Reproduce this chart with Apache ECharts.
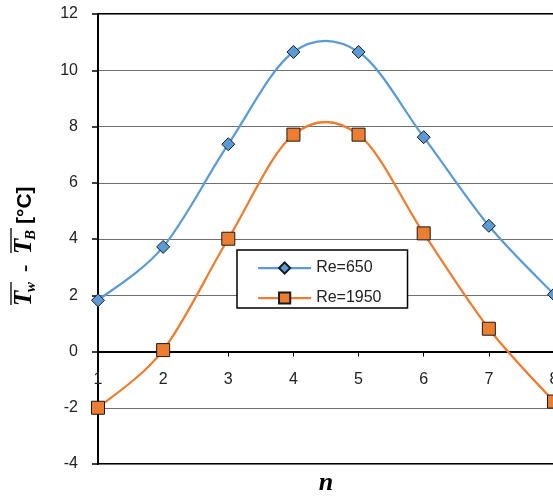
<!DOCTYPE html>
<html>
<head>
<meta charset="utf-8">
<script src="https://cdn.jsdelivr.net/npm/echarts@6/dist/echarts.min.js"></script>
<style>
  html, body { margin: 0; padding: 0; background: #fff; }
  #chart { width: 553px; height: 497px; }
</style>
</head>
<body>
<div id="chart"></div>
<script>
// Axial position index n and wall-minus-bulk temperature difference per Reynolds number
const positions = ['1', '2', '3', '4', '5', '6', '7', '8'];
const re650 = [1.82, 3.72, 7.37, 10.65, 10.65, 7.62, 4.47, 2.03];
const re1950 = [-2.0, 0.05, 4.01, 7.71, 7.71, 4.2, 0.81, -1.78];
const yTicks = { min: -4, max: 12, step: 2 };

const BLUE = '#5b9bd5';
const ORANGE = '#ed7d31';

// Plot box geometry
const GRID_TOP = 14;
const GRID_BOTTOM = 33;
const CHART_H = 497;
const plotH = CHART_H - GRID_TOP - GRID_BOTTOM;
// distance from the bottom edge of the plot up to the y = 0 line
const zeroLift = plotH * (0 - yTicks.min) / (yTicks.max - yTicks.min);

const chart = echarts.init(document.getElementById('chart'));

const serif = '"Liberation Serif", "DejaVu Serif", serif';
const sans = '"Liberation Sans", "DejaVu Sans", sans-serif';

// Rotated y-axis title: overlined T_w - overlined T_B [°C]
function titleParts() {
  const big = 'italic bold 25px ' + serif;
  const small = 'italic bold 15px ' + serif;
  return [
    { type: 'text', style: { x: 0, y: 0, text: 'T', font: big, fill: '#000', verticalAlign: 'bottom' } },
    { type: 'text', style: { x: 14, y: 2, text: 'w', font: small, fill: '#000', verticalAlign: 'bottom' } },
    { type: 'text', style: { x: 34, y: -1, text: '-', font: 'bold 22px ' + serif, fill: '#000', verticalAlign: 'bottom' } },
    { type: 'text', style: { x: 52, y: 0, text: 'T', font: big, fill: '#000', verticalAlign: 'bottom' } },
    { type: 'text', style: { x: 66, y: 2, text: 'B', font: small, fill: '#000', verticalAlign: 'bottom' } },
    { type: 'text', style: { x: 82, y: -1, text: '[°C]', font: 'bold 21px ' + sans, fill: '#000', verticalAlign: 'bottom' } },
    { type: 'line', shape: { x1: 1, y1: -26, x2: 24, y2: -26 }, style: { stroke: '#000', lineWidth: 1.3 } },
    { type: 'line', shape: { x1: 53, y1: -26, x2: 78, y2: -26 }, style: { stroke: '#000', lineWidth: 1.3 } }
  ];
}

// Cardinal (Catmull-Rom) spline through the pixel positions of a value array
function splineRenderer(values, color) {
  return function (params, api) {
    if (params.dataIndex !== 0) return null;
    const pts = values.map((v, i) => api.coord([i, v]));
    const n = pts.length;
    let d = 'M' + pts[0][0] + ' ' + pts[0][1];
    for (let i = 0; i < n - 1; i++) {
      const p0 = pts[Math.max(i - 1, 0)];
      const p1 = pts[i];
      const p2 = pts[i + 1];
      const p3 = pts[Math.min(i + 2, n - 1)];
      const c1x = p1[0] + (p2[0] - p0[0]) / 6;
      const c1y = p1[1] + (p2[1] - p0[1]) / 6;
      const c2x = p2[0] - (p3[0] - p1[0]) / 6;
      const c2y = p2[1] - (p3[1] - p1[1]) / 6;
      d += ' C' + c1x + ' ' + c1y + ' ' + c2x + ' ' + c2y + ' ' + p2[0] + ' ' + p2[1];
    }
    return {
      type: 'path',
      shape: { pathData: d },
      style: { fill: 'none', stroke: color, lineWidth: 2.25 },
      silent: true
    };
  };
}

function markerSeries(name, values, symbol, color) {
  return {
    name: name,
    type: 'line',
    data: values,
    symbol: symbol,
    symbolSize: 13,
    lineStyle: { color: color, width: 2.25, opacity: 0 },
    itemStyle: { color: color, borderColor: '#1a1a1a', borderWidth: 1 },
    z: 4
  };
}

function curveSeries(name, values, color) {
  return {
    name: name + ' curve',
    type: 'custom',
    data: values.map((v, i) => [i, v]),
    renderItem: splineRenderer(values, color),
    clip: false,
    silent: true,
    z: 3
  };
}

const option = {
  animation: false,
  backgroundColor: '#fff',
  grid: {
    left: 98, top: GRID_TOP, right: -1, bottom: GRID_BOTTOM,
    outerBoundsMode: 'none',
    containLabel: false,
    show: true, borderColor: '#000', borderWidth: 2, backgroundColor: 'transparent'
  },
  legend: {
    orient: 'vertical',
    left: 237, top: 250,
    backgroundColor: '#fff',
    borderColor: '#000', borderWidth: 1.5,
    padding: [10, 26, 2, 20],
    itemWidth: 53, itemHeight: 14, itemGap: 14,
    textStyle: { fontFamily: sans, fontSize: 16, color: '#222' },
    data: [
      { name: 'Re=650', lineStyle: { color: BLUE, width: 2.25, opacity: 1 } },
      { name: 'Re=1950', lineStyle: { color: ORANGE, width: 2.25, opacity: 1 } }
    ]
  },
  xAxis: {
    type: 'category',
    data: positions,
    boundaryGap: false,
    position: 'bottom',
    offset: -zeroLift,
    name: 'n',
    nameLocation: 'middle',
    nameGap: 119,
    nameTextStyle: { fontFamily: serif, fontStyle: 'italic', fontWeight: 'bold', fontSize: 26, color: '#000' },
    axisLine: { onZero: false, lineStyle: { color: '#000', width: 2 } },
    axisTick: { show: true, length: 5, lineStyle: { color: '#000', width: 1 } },
    axisLabel: { fontFamily: sans, fontSize: 16, color: '#222', margin: 20 },
    splitLine: { show: false }
  },
  yAxis: {
    type: 'value',
    min: yTicks.min, max: yTicks.max, interval: yTicks.step,
    axisLine: { show: true, lineStyle: { color: '#000', width: 2 } },
    axisTick: { show: true, length: 6, lineStyle: { color: '#000', width: 1.5 } },
    axisLabel: { fontFamily: sans, fontSize: 16, color: '#222', margin: 20 },
    splitLine: { show: true, lineStyle: { color: '#6f6f6f', width: 1.2 } }
  },
  graphic: [{
    type: 'group',
    x: 37, y: 306,
    rotation: Math.PI / 2,
    children: titleParts()
  }],
  series: [
    curveSeries('Re=650', re650, BLUE),
    curveSeries('Re=1950', re1950, ORANGE),
    markerSeries('Re=650', re650, 'diamond', BLUE),
    markerSeries('Re=1950', re1950, 'rect', ORANGE)
  ]
};

chart.setOption(option);
</script>
</body>
</html>
